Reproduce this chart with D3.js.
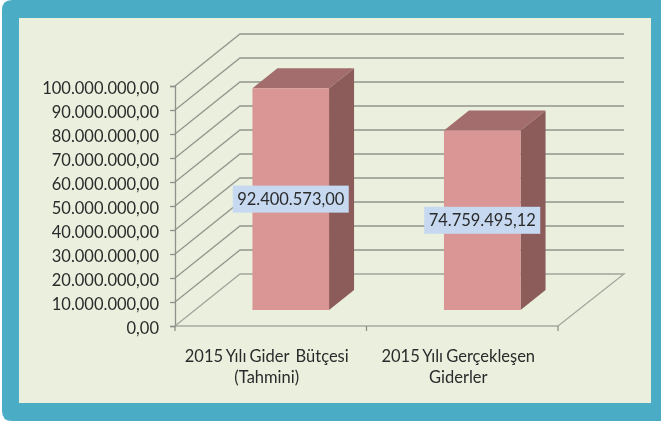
<!DOCTYPE html>
<html>
<head>
<meta charset="utf-8">
<script src="https://cdn.jsdelivr.net/npm/d3@7"></script>
<style>
  html, body { margin: 0; padding: 0; background: #fff; }
  svg { display: block; filter: blur(0.35px); }
  text { font-family: Lato, "Open Sans", sans-serif; fill: #2b2b2b; }
</style>
</head>
<body>
<svg id="chart" width="661" height="421"></svg>
<script>
// chart data
const categories = ['2015 Yılı Gider  Bütçesi', '2015 Yılı Gerçekleşen'];
const categoryLine2 = ['(Tahmini)', 'Giderler'];
const values = [92400573.00, 74759495.12];
const tickValues = [0, 10e6, 20e6, 30e6, 40e6, 50e6, 60e6, 70e6, 80e6, 90e6, 100e6];

const svg = d3.select('#chart');

// turkish style numbers: 92.400.573,00
const locale = d3.formatLocale({ decimal: ',', thousands: '.', grouping: [3], currency: ['', ''] });
const fmt = locale.format(',.2f');

const y = d3.scaleLinear().domain([0, 100e6]).range([326, 86]);
const x = d3.scaleBand().domain(categories).range([175, 558]).paddingInner(0.6).paddingOuter(0.3);

// 3d offsets
const wallDx = 65, wallDy = -52;
const barDx = 25, barDy = -20;
const barShiftX = 20, barShiftY = -16;

// === Frame ===
svg.append('path')
  .attr('d', 'M12,0H661V421H12Q2,421 2,411V10Q2,0 12,0Z')
  .attr('fill', '#4bacc6');
svg.append('rect')
  .attr('x', 19).attr('y', 18).attr('width', 632).attr('height', 385)
  .attr('fill', '#eaefde');

// === Gridlines on side + back wall ===
const gridLine = d3.line();
const xMin = x.range()[0], xMax = x.range()[1];

svg.append('g').selectAll('path')
  .data(tickValues.slice(1))
  .join('path')
  .attr('d', (d) => gridLine([
    [xMin, y(d)],
    [xMin + wallDx, y(d) + wallDy],
    [xMax + wallDx + 1, y(d) + wallDy],
  ]))
  .attr('fill', 'none')
  .attr('stroke', '#92968c')
  .attr('stroke-width', 1.3);

// floor
svg.append('path')
  .attr('d', gridLine([
    [xMin, y(0)],
    [xMin + wallDx, y(0) + wallDy],
    [xMax + wallDx + 1, y(0) + wallDy],
    [xMax, y(0)],
  ]))
  .attr('fill', 'none')
  .attr('stroke', '#a3a69c')
  .attr('stroke-width', 1.3);

// === Axes ===
const yAxis = d3.axisLeft(y).tickValues(tickValues).tickFormat(fmt).tickSize(5).tickPadding(11);
const yG = svg.append('g').attr('transform', `translate(${xMin},0)`).call(yAxis);
yG.select('.domain').attr('stroke', '#8e918a').attr('stroke-width', 1.3);
yG.selectAll('.tick line').attr('stroke', '#8e918a').attr('stroke-width', 1.3);
yG.selectAll('.tick text').style('font-size', '16.5px').attr('dy', '0.47em').attr('x', -16);
yG.attr('font-family', null).attr('font-size', null);

// bottom axis line and the ticks between categories
svg.append('line')
  .attr('x1', xMin).attr('x2', xMax)
  .attr('y1', y(0)).attr('y2', y(0))
  .attr('stroke', '#a8aaa0').attr('stroke-width', 1.3);
svg.append('g').selectAll('line')
  .data(d3.range(categories.length + 1))
  .join('line')
  .attr('x1', (i) => xMin + i * x.step())
  .attr('x2', (i) => xMin + i * x.step())
  .attr('y1', y(0))
  .attr('y2', y(0) + 5)
  .attr('stroke', '#8e918a')
  .attr('stroke-width', 1.3);

// === Bars ===
const bars = svg.append('g').selectAll('g')
  .data(categories.map((c, i) => ({ category: c, value: values[i] })))
  .join('g')
  .attr('transform', `translate(${barShiftX},${barShiftY})`);

const w = x.bandwidth();

// side face
bars.append('path')
  .attr('d', (d) => {
    const x1 = x(d.category) + w;
    return gridLine([
      [x1, y(d.value)],
      [x1 + barDx, y(d.value) + barDy],
      [x1 + barDx, y(0) + barDy],
      [x1, y(0)],
    ]) + 'Z';
  })
  .attr('fill', '#8b5c5a');

// top face
bars.append('path')
  .attr('d', (d) => {
    const x0 = x(d.category);
    return gridLine([
      [x0, y(d.value)],
      [x0 + barDx, y(d.value) + barDy],
      [x0 + w + barDx, y(d.value) + barDy],
      [x0 + w, y(d.value)],
    ]) + 'Z';
  })
  .attr('fill', '#a26d6c');

// front face
bars.append('rect')
  .attr('x', (d) => x(d.category))
  .attr('y', (d) => y(d.value))
  .attr('width', w)
  .attr('height', (d) => y(0) - y(d.value))
  .attr('fill', '#da9694');

// === Data labels ===
const labelW = 116, labelH = 27;
const labelCy = (d) => (y(d.value) + y(0)) / 2 + barShiftY;

const labels = svg.append('g').selectAll('g')
  .data(categories.map((c, i) => ({ category: c, value: values[i] })))
  .join('g');

labels.append('rect')
  .attr('x', (d) => x(d.category) + barShiftX + w / 2 - labelW / 2)
  .attr('y', (d) => labelCy(d) - labelH / 2)
  .attr('width', labelW)
  .attr('height', labelH)
  .attr('fill', '#c6d9f1');

labels.append('text')
  .attr('x', (d) => x(d.category) + barShiftX + w / 2)
  .attr('y', labelCy)
  .attr('dy', '0.36em')
  .attr('text-anchor', 'middle')
  .style('font-size', '16.5px')
  .text((d) => fmt(d.value));

// === Category labels ===
const catG = svg.append('g').selectAll('g')
  .data(categories.map((c, i) => ({ line1: c, line2: categoryLine2[i], key: c })))
  .join('g')
  .attr('transform', (d) => `translate(${x(d.key) + w / 2 - 4},0)`);

catG.append('text')
  .attr('y', 362)
  .attr('text-anchor', 'middle')
  .style('font-size', '16.5px')
  .style('word-spacing', '-1px')
  .style('white-space', 'pre')
  .text((d) => d.line1);

catG.append('text')
  .attr('y', 383)
  .attr('text-anchor', 'middle')
  .style('font-size', '16.5px')
  .text((d) => d.line2);
</script>
</body>
</html>
